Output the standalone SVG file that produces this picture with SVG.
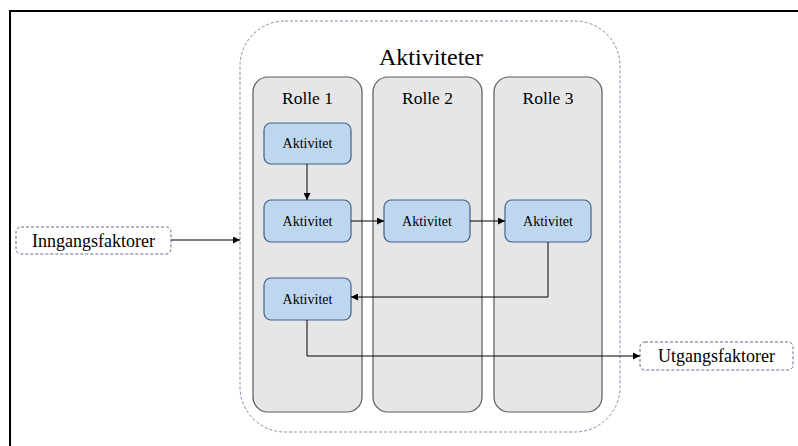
<svg xmlns="http://www.w3.org/2000/svg" width="798" height="446" viewBox="0 0 798 446">
  <style>
    .frame { fill: none; stroke: #000; stroke-width: 2; }
    .container { fill: #fff; stroke: #7f8fa9; stroke-width: 1; stroke-dasharray: 3 2; }
    .lane { fill: #e6e6e6; stroke: #5a5a5a; stroke-width: 1.2; }
    .act { fill: #bdd7ee; stroke: #41608a; stroke-width: 1.2; }
    .io { fill: #fff; stroke: #5d6f8c; stroke-width: 1; stroke-dasharray: 3 2; }
    .conn { fill: none; stroke: #000; stroke-width: 1; }
    .lbl { font-family: "Liberation Serif", "Times New Roman", serif; fill: #000; text-anchor: middle; }
    .title { font-size: 24px; }
    .role { font-size: 17.5px; }
    .small { font-size: 14px; }
    .iotext { font-size: 18px; }
  </style>
  <defs>
    <marker id="arrow" viewBox="0 0 8 8" refX="8" refY="4" markerWidth="7" markerHeight="7" markerUnits="userSpaceOnUse" orient="auto">
      <path d="M0,0 L8,4 L0,8 Z" fill="#000"/>
    </marker>
  </defs>

  <!-- page frame (top and left edges) -->
  <path class="frame" d="M10,446 L10,11 L798,11"/>

  <!-- activity container -->
  <g id="aktiviteter">
    <rect class="container" x="240" y="21" width="380" height="411" rx="45" ry="45"/>
    <text class="lbl title" x="431" y="65">Aktiviteter</text>
  </g>

  <!-- swimlanes -->
  <g id="rolle1">
    <rect class="lane" x="253" y="77" width="109" height="335" rx="15" ry="15"/>
    <text class="lbl role" x="307.5" y="104">Rolle 1</text>
  </g>
  <g id="rolle2">
    <rect class="lane" x="373" y="77" width="109" height="335" rx="15" ry="15"/>
    <text class="lbl role" x="427.5" y="104">Rolle 2</text>
  </g>
  <g id="rolle3">
    <rect class="lane" x="494" y="77" width="108" height="335" rx="15" ry="15"/>
    <text class="lbl role" x="548" y="104">Rolle 3</text>
  </g>

  <!-- activities -->
  <g id="aktivitet1">
    <rect class="act" x="264" y="123" width="87" height="41" rx="7" ry="7"/>
    <text class="lbl small" x="307.5" y="148">Aktivitet</text>
  </g>
  <g id="aktivitet2">
    <rect class="act" x="264" y="200" width="87" height="42" rx="7" ry="7"/>
    <text class="lbl small" x="307.5" y="226">Aktivitet</text>
  </g>
  <g id="aktivitet3">
    <rect class="act" x="384" y="200" width="86" height="42" rx="7" ry="7"/>
    <text class="lbl small" x="427" y="226">Aktivitet</text>
  </g>
  <g id="aktivitet4">
    <rect class="act" x="505" y="200" width="86" height="42" rx="7" ry="7"/>
    <text class="lbl small" x="548" y="226">Aktivitet</text>
  </g>
  <g id="aktivitet5">
    <rect class="act" x="264" y="278" width="87" height="42" rx="7" ry="7"/>
    <text class="lbl small" x="307.5" y="304">Aktivitet</text>
  </g>

  <!-- inputs and outputs -->
  <g id="inngangsfaktorer">
    <rect class="io" x="16" y="227" width="155" height="27" rx="5" ry="5"/>
    <text class="lbl iotext" x="93.5" y="247">Inngangsfaktorer</text>
  </g>
  <g id="utgangsfaktorer">
    <rect class="io" x="640" y="342" width="153" height="28" rx="5" ry="5"/>
    <text class="lbl iotext" x="716.5" y="362">Utgangsfaktorer</text>
  </g>

  <!-- connectors -->
  <g id="connectors">
    <path class="conn" d="M171,240 L240,240" marker-end="url(#arrow)"/>
    <path class="conn" d="M307,164 L307,200" marker-end="url(#arrow)"/>
    <path class="conn" d="M351,221 L384,221" marker-end="url(#arrow)"/>
    <path class="conn" d="M470,221 L505,221" marker-end="url(#arrow)"/>
    <path class="conn" d="M548,242 L548,297 L351,297" marker-end="url(#arrow)"/>
    <path class="conn" d="M307,320 L307,356 L640,356" marker-end="url(#arrow)"/>
  </g>
</svg>
